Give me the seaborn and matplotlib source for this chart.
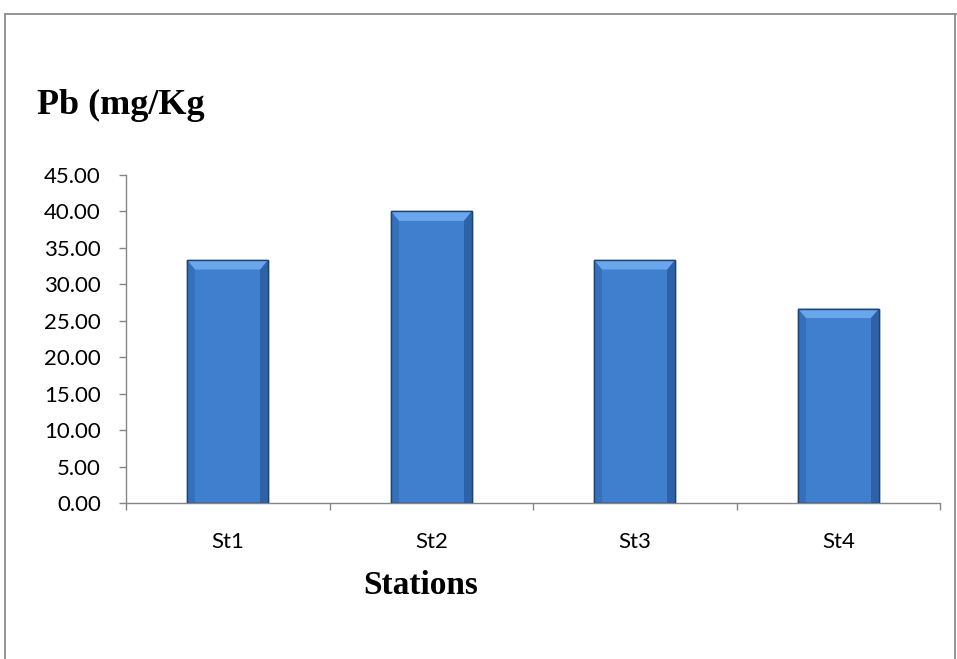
import matplotlib
matplotlib.use("Agg")
import matplotlib.pyplot as plt
import seaborn as sns
from matplotlib.lines import Line2D
from matplotlib.patches import Polygon

# data
stations = ["St1", "St2", "St3", "St4"]
pb_values = [33.33, 40.00, 33.33, 26.67]
y_ticks = [0, 5, 10, 15, 20, 25, 30, 35, 40, 45]

sns.set_style("white")
plt.rcParams["font.family"] = ["Lato", "DejaVu Sans"]
plt.rcParams["text.color"] = "black"
plt.rcParams["xtick.color"] = "black"
plt.rcParams["ytick.color"] = "black"

W, H = 957, 659
fig = plt.figure(figsize=(W / 100, H / 100), dpi=100)
ax = fig.add_axes([126 / W, 1 - 503 / H, (940 - 126) / W, (503 - 175) / H])

sns.barplot(x=stations, y=pb_values, color="#3F7FCE", width=0.40,
            edgecolor="#1F4470", linewidth=1.0, saturation=1, ax=ax)

# fake the bevelled office look: lighter strip on top, darker sides
for p in list(ax.patches):
    x0, w, h = p.get_x(), p.get_width(), p.get_height()
    bev = 1.3
    dx = 0.04
    top = Polygon([(x0, h), (x0 + w, h), (x0 + w - dx, h - bev), (x0 + dx, h - bev)],
                  closed=True, facecolor="#6AA6EC", edgecolor="none", zorder=3)
    ax.add_patch(top)
    side = Polygon([(x0 + w, h), (x0 + w, 0), (x0 + w - dx, 0), (x0 + w - dx, h - bev)],
                   closed=True, facecolor="#2E62A8", edgecolor="none", zorder=3)
    ax.add_patch(side)
    side2 = Polygon([(x0, h), (x0, 0), (x0 + dx, 0), (x0 + dx, h - bev)],
                    closed=True, facecolor="#3670BC", edgecolor="none", zorder=3)
    ax.add_patch(side2)
    ax.add_patch(plt.Rectangle((x0, 0), w, h, facecolor="none", edgecolor="#1F4470",
                               linewidth=1.0, zorder=4))

ax.set_xlim(-0.5, len(stations) - 0.5)
ax.set_ylim(0, 45)
ax.set_yticks(y_ticks)
ax.set_yticklabels([f"{v:.2f}" for v in y_ticks], fontsize=16, color="black")

# category boundaries get the tick marks, labels sit in between
ax.set_xticks([i - 0.5 for i in range(len(stations) + 1)])
ax.set_xticklabels([])
ax.set_xticks(range(len(stations)), minor=True)
ax.set_xticklabels(stations, minor=True, fontsize=16, color="black")
ax.tick_params(axis="x", which="minor", bottom=True, length=0, pad=21)
ax.tick_params(axis="x", which="major", bottom=True, length=5, width=1,
               color="#868686", direction="out")
ax.tick_params(axis="y", left=True, length=5, width=1, color="#868686",
               direction="out", pad=13)
ax.set_xlabel("")
ax.set_ylabel("")

for s in ["top", "right"]:
    ax.spines[s].set_visible(False)
for s in ["left", "bottom"]:
    ax.spines[s].set_color("#868686")
    ax.spines[s].set_linewidth(1)

fig.text(37 / W, 1 - 105 / H, "Pb (mg/Kg", fontsize=26, fontweight="bold",
         family="Liberation Serif", va="center", ha="left", color="black")
fig.text(421 / W, 1 - 585 / H, "Stations", fontsize=24, fontweight="bold",
         family="Liberation Serif", va="center", ha="center", color="black")

# frame around the chart area
bc = "#8C8C8C"
fig.add_artist(Line2D([5 / W, 1], [1 - 14 / H, 1 - 14 / H], color=bc, lw=1.3))
fig.add_artist(Line2D([5 / W, 5 / W], [0, 1 - 14 / H], color=bc, lw=1.3))
fig.add_artist(Line2D([955 / W, 955 / W], [0, 1 - 14 / H], color=bc, lw=1.3))

fig.savefig("out.png", dpi=100)
